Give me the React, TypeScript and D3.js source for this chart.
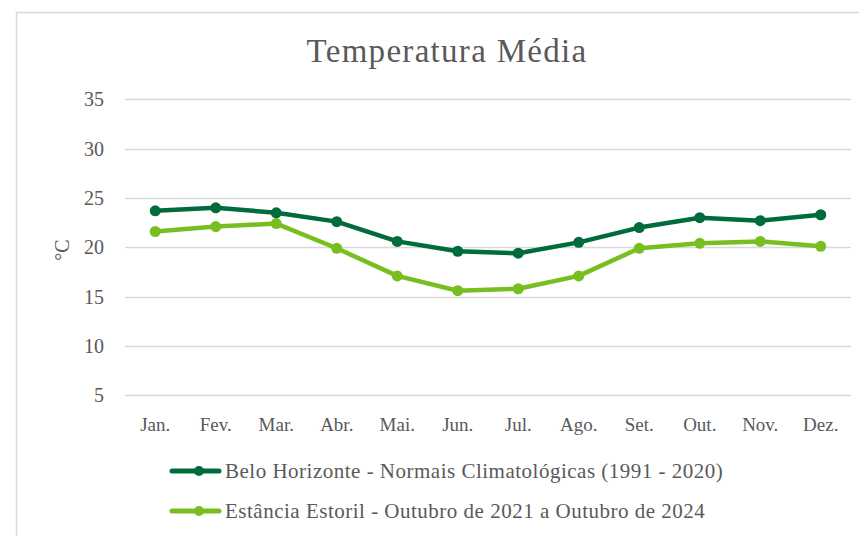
import React, { useEffect, useRef } from "react";
import * as d3 from "d3";

const months = ["Jan.", "Fev.", "Mar.", "Abr.", "Mai.", "Jun.", "Jul.", "Ago.", "Set.", "Out.", "Nov.", "Dez."];
const beloHorizonte = [23.7, 24.0, 23.5, 22.6, 20.6, 19.6, 19.4, 20.5, 22.0, 23.0, 22.7, 23.3];
const estanciaEstoril = [21.6, 22.1, 22.4, 19.9, 17.1, 15.6, 15.8, 17.1, 19.9, 20.4, 20.6, 20.1];
const yTicks = [5, 10, 15, 20, 25, 30, 35];
const seriesNames = [
  "Belo Horizonte - Normais Climatológicas (1991 - 2020)",
  "Estância Estoril - Outubro de 2021 a Outubro de 2024",
];
const seriesColors = ["#006B3C", "#78BE21"];

const W = 859;
const H = 536;
const FONT = "'Liberation Serif', serif";

export default function App() {
  const ref = useRef<SVGSVGElement>(null);

  useEffect(() => {
    const svg = d3.select(ref.current);
    svg.selectAll("*").remove();

    // chart frame
    svg
      .append("rect")
      .attr("x", 16.5)
      .attr("y", 12.5)
      .attr("width", 900)
      .attr("height", 600)
      .attr("fill", "#fff")
      .attr("stroke", "#D9D9D9")
      .attr("stroke-width", 1.5);

    const x = d3.scaleBand().domain(months).range([125, 851]);
    const y = d3.scaleLinear().domain([5, 35]).range([395.3, 99.3]);

    svg
      .append("text")
      .attr("x", 447)
      .attr("y", 62)
      .attr("text-anchor", "middle")
      .attr("font-family", FONT)
      .attr("font-size", 33)
      .attr("letter-spacing", 1.3)
      .attr("fill", "#595959")
      .text("Temperatura Média");

    // gridlines
    svg
      .append("g")
      .selectAll("line")
      .data(yTicks)
      .enter()
      .append("line")
      .attr("x1", 125)
      .attr("x2", 851)
      .attr("y1", (d) => Math.round(y(d)) + 0.5)
      .attr("y2", (d) => Math.round(y(d)) + 0.5)
      .attr("stroke", "#D9D9D9")
      .attr("stroke-width", 1.5);

    svg
      .append("g")
      .selectAll("text")
      .data(yTicks)
      .enter()
      .append("text")
      .attr("x", 104)
      .attr("y", (d) => y(d) + 7)
      .attr("text-anchor", "end")
      .attr("font-family", FONT)
      .attr("font-size", 20)
      .attr("fill", "#595959")
      .text((d) => d);

    svg
      .append("text")
      .attr("transform", "translate(69," + 250 + ") rotate(-90)")
      .attr("text-anchor", "middle")
      .attr("font-family", FONT)
      .attr("font-size", 20)
      .attr("fill", "#595959")
      .text("°C");

    svg
      .append("g")
      .selectAll("text")
      .data(months)
      .enter()
      .append("text")
      .attr("x", (d) => (x(d) as number) + x.bandwidth() / 2)
      .attr("y", 431)
      .attr("text-anchor", "middle")
      .attr("font-family", FONT)
      .attr("font-size", 19)
      .attr("fill", "#595959")
      .text((d) => d);

    const allSeries = [beloHorizonte, estanciaEstoril];
    const line = d3
      .line<number>()
      .x((d, i) => (x(months[i]) as number) + x.bandwidth() / 2)
      .y((d) => y(d));

    // light first so the dark one sits on top
    [1, 0].forEach((si) => {
      const g = svg.append("g");
      g.append("path")
        .datum(allSeries[si])
        .attr("d", line)
        .attr("fill", "none")
        .attr("stroke", seriesColors[si])
        .attr("stroke-width", 4.5)
        .attr("stroke-linejoin", "round")
        .attr("stroke-linecap", "round");
      g.selectAll("circle")
        .data(allSeries[si])
        .enter()
        .append("circle")
        .attr("cx", (d, i) => (x(months[i]) as number) + x.bandwidth() / 2)
        .attr("cy", (d) => y(d))
        .attr("r", 5.5)
        .attr("fill", seriesColors[si]);
    });

    // legend
    const legend = svg
      .append("g")
      .selectAll("g")
      .data(seriesNames)
      .enter()
      .append("g")
      .attr("transform", (d, i) => "translate(0," + (471 + i * 40) + ")");
    legend
      .append("line")
      .attr("x1", 172)
      .attr("x2", 219)
      .attr("stroke", (d, i) => seriesColors[i])
      .attr("stroke-width", 5)
      .attr("stroke-linecap", "round");
    legend
      .append("circle")
      .attr("cx", 199)
      .attr("r", 5)
      .attr("fill", (d, i) => seriesColors[i]);
    legend
      .append("text")
      .attr("x", 225)
      .attr("y", 7)
      .attr("font-family", FONT)
      .attr("font-size", 21)
      .attr("letter-spacing", 0.5)
      .attr("fill", "#595959")
      .text((d) => d);
  }, []);

  return (
    <svg
      ref={ref}
      width={W}
      height={H}
      style={{ position: "absolute", left: 0, top: 0, background: "#fff" }}
    ></svg>
  );
}
